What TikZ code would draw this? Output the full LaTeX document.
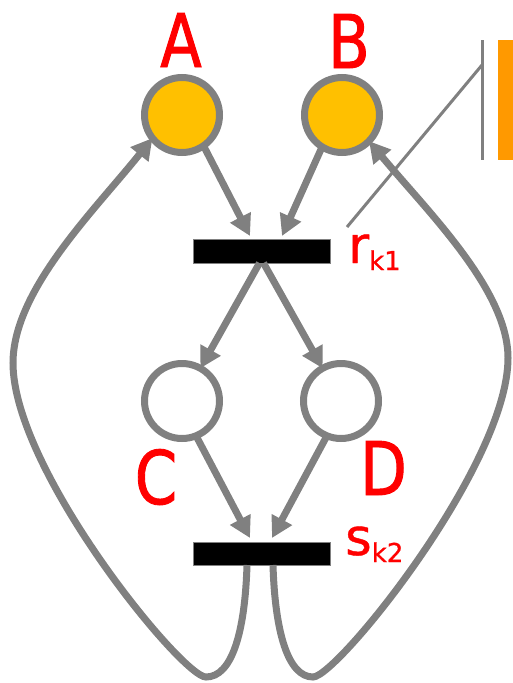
\documentclass[tikz,border=0pt]{standalone}
\usepackage{fontspec}
\setmainfont{DejaVu Sans}
\newfontfamily\bigfont{DejaVu Sans}[FakeStretch=0.82,FakeBold=1.2]
\newfontfamily\tfont{DejaVu Sans}[FakeBold=0.8]
\usetikzlibrary{arrows.meta}
\definecolor{pngray}{HTML}{808080}
\definecolor{tokgold}{HTML}{FFC000}
\definecolor{barorange}{HTML}{FF9900}
\definecolor{lblred}{HTML}{FF0000}
\begin{document}
\begin{tikzpicture}[x=1pt,y=-1pt,
  place/.style={circle,draw=pngray,line width=7pt,minimum size=75pt,inner sep=0pt,outer sep=0pt},
  marked/.style={place,fill=tokgold},
  trans/.style={rectangle,fill=black,draw=pngray,line width=1pt,minimum width=137pt,minimum height=24pt,inner sep=0pt,outer sep=0pt},
  arc/.style={draw=pngray,line width=7pt,-{Triangle[length=21pt,width=22pt]}},
  thinline/.style={draw=pngray,line width=3pt},
  lbl/.style={text=lblred,font=\bigfont\fontsize{74}{74}\selectfont,inner sep=0pt,anchor=base},
  tlbl/.style={text=lblred,font=\tfont\fontsize{51}{51}\selectfont,inner sep=0pt,anchor=base west}]
\useasboundingbox (0,0) rectangle (513,683);
% places
\node[marked] (A) at (182,115) {};
\node[marked] (B) at (342,115) {};
\node[place] (C) at (182,401) {};
\node[place] (D) at (341,401) {};
% transitions
\node[trans] (r) at (261.5,251) {};
\node[trans,minimum height=23pt] (s) at (261.5,553.5) {};
% labels
\node[lbl] (lA) at (181,67) {A};
\node[lbl] (lB) at (349,68) {B};
\node[lbl] (lC) at (156,504) {C};
\node[lbl] (lD) at (383.5,495) {D};
\node[tlbl] (lr) at (348,263) {r\raisebox{-7pt}{\fontsize{26}{26}\selectfont k1}};
\node[tlbl] (ls) at (345,555) {s\raisebox{-7pt}{\fontsize{26}{26}\selectfont k2}};
% arcs
\draw[arc] (A.-55) -- ([xshift=-11.5pt,yshift=3pt]r.north);
\draw[arc] (B.-122) -- ([xshift=20.5pt,yshift=3pt]r.north);
\draw[arc] ([xshift=-2pt]r.south) -- (C);
\draw[arc] ([xshift=2pt]r.south) -- (D);
\draw[arc] (C.-68) -- ([xshift=-11.5pt,yshift=4pt]s.north);
\draw[arc] (D.-112) -- ([xshift=10.5pt,yshift=4pt]s.north);
\draw[arc] ([xshift=-14.5pt]s.south) .. controls (245,632) and (232,677) .. (206,677)
  .. controls (182,677) and (13,470) .. (13,363)
  .. controls (13,290) and (95,210) .. (A.-142);
\draw[arc] ([xshift=11.5pt]s.south) .. controls (275,632) and (288,677) .. (313,677)
  .. controls (337,677) and (508,465) .. (508,358)
  .. controls (508,290) and (428,212) .. (B.-44);
% top-right decoration
\coordinate (v1) at (482,40);
\coordinate (v2) at (482,160);
\coordinate (d1) at (347,227);
\coordinate (d2) at (482,65);
\draw[thinline] (v1) -- (v2);
\draw[thinline] (d1) -- (d2);
\fill[barorange] (498,40) rectangle (513,160);
\end{tikzpicture}
\end{document}
